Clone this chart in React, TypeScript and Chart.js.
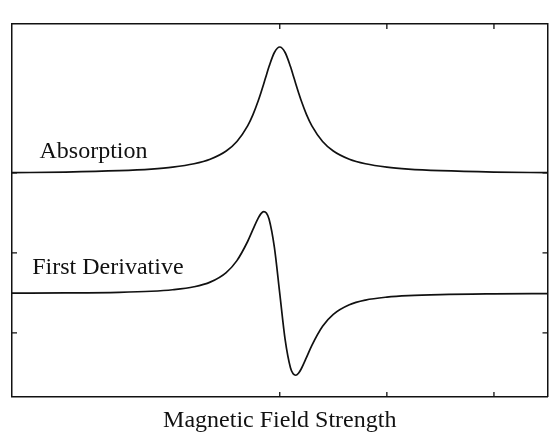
import React, { useEffect, useRef } from "react";
import { Chart, registerables } from "chart.js";

Chart.register(...registerables);

// Field positions (arbitrary units, 0 = resonance centre)
const fieldX = [
  -2.5, -2.0, -1.5, -1.2, -1.0, -0.8, -0.65, -0.5, -0.4, -0.3, -0.25, -0.2, -0.175, -0.15, -0.125, -0.1, -0.05,
  0, 0.05, 0.1, 0.125, 0.15, 0.175, 0.2, 0.25, 0.3, 0.4, 0.5, 0.65, 0.8, 1.0, 1.2, 1.5, 2.0, 2.5,
];

// Absorption signal
const absorption = [
  2.004, 2.011, 2.028, 2.048, 2.072, 2.115, 2.172, 2.275, 2.394, 2.589, 2.73, 2.906, 3.007, 3.113, 3.223, 3.33, 3.506,
  3.575, 3.506, 3.33, 3.223, 3.113, 3.007, 2.906, 2.73, 2.589, 2.394, 2.275, 2.172, 2.115, 2.072, 2.048, 2.028, 2.011, 2.004,
];

// First-derivative signal
const firstDerivative = [
  0.497, 0.5, 0.508, 0.521, 0.54, 0.577, 0.635, 0.755, 0.904, 1.143, 1.294, 1.439, 1.492, 1.517, 1.499, 1.424, 1.069,
  0.494, -0.081, -0.436, -0.511, -0.529, -0.504, -0.451, -0.306, -0.155, 0.084, 0.233, 0.353, 0.411, 0.448, 0.467, 0.48, 0.488, 0.491,
];

const xTickValues = [0, 1, 2];
const yTickValues = [0, 1, 2];

const labelTexts = ["Absorption", "First Derivative"];
const labelX = [-2.243, -2.311];
const labelY = [2.19, 0.734];

const xTitle = "Magnetic Field Strength";

const INK = "#111";
const FONT = '"Liberation Serif", "Times New Roman", serif';

const framePlugin = {
  id: "frameTicksLabels",
  afterDraw(chart: any) {
    const { ctx, chartArea: a } = chart;
    const x = chart.scales.x;
    const y = chart.scales.y;
    const len = 5;
    ctx.save();
    ctx.strokeStyle = INK;
    ctx.lineWidth = 1.3;
    ctx.beginPath();
    x.ticks.forEach((t: any) => {
      const px = x.getPixelForValue(t.value);
      ctx.moveTo(px, a.bottom);
      ctx.lineTo(px, a.bottom - len);
      ctx.moveTo(px, a.top);
      ctx.lineTo(px, a.top + len);
    });
    y.ticks.forEach((t: any) => {
      const py = y.getPixelForValue(t.value);
      ctx.moveTo(a.left, py);
      ctx.lineTo(a.left + len, py);
      ctx.moveTo(a.right, py);
      ctx.lineTo(a.right - len, py);
    });
    ctx.stroke();

    ctx.font = `24px ${FONT}`;
    ctx.fillStyle = INK;
    ctx.textAlign = "left";
    ctx.textBaseline = "alphabetic";
    labelTexts.forEach((txt, i) => {
      ctx.fillText(txt, x.getPixelForValue(labelX[i]), y.getPixelForValue(labelY[i]));
    });
    ctx.restore();
  },
};

export default function App() {
  const canvasRef = useRef<HTMLCanvasElement | null>(null);

  useEffect(() => {
    if (!canvasRef.current) return;
    const border = { display: true, color: INK, width: 1.5 };
    const hiddenTicks = { display: false };
    const noGrid = { display: false, drawTicks: false };
    const chart = new Chart(canvasRef.current, {
      type: "line",
      data: {
        datasets: [
          {
            label: "Absorption",
            data: fieldX.map((v, i) => ({ x: v, y: absorption[i] })),
            borderColor: INK,
            borderWidth: 1.7,
            pointRadius: 0,
            cubicInterpolationMode: "monotone",
            fill: false,
          },
          {
            label: "First Derivative",
            data: fieldX.map((v, i) => ({ x: v, y: firstDerivative[i] })),
            borderColor: INK,
            borderWidth: 1.7,
            pointRadius: 0,
            cubicInterpolationMode: "monotone",
            fill: false,
          },
        ],
      },
      options: {
        responsive: false,
        animation: false,
        layout: { padding: { left: 12, right: 1.5, top: 24, bottom: 8.3 } },
        plugins: { legend: { display: false }, tooltip: { enabled: false }, title: { display: false } },
        scales: {
          x: {
            type: "linear",
            position: "bottom",
            min: -2.5,
            max: 2.5,
            afterBuildTicks: (s: any) => {
              s.ticks = xTickValues.map((v) => ({ value: v }));
            },
            ticks: hiddenTicks,
            grid: noGrid,
            border,
            title: {
              display: true,
              text: xTitle,
              color: INK,
              font: { family: FONT, size: 24, weight: "normal" },
              padding: { top: 9, bottom: 0 },
            },
          },
          x2: {
            type: "linear",
            axis: "x",
            position: "top",
            min: -2.5,
            max: 2.5,
            ticks: hiddenTicks,
            grid: noGrid,
            border,
          },
          y: {
            type: "linear",
            position: "left",
            min: -0.8,
            max: 3.8625,
            afterBuildTicks: (s: any) => {
              s.ticks = yTickValues.map((v) => ({ value: v }));
            },
            ticks: hiddenTicks,
            grid: noGrid,
            border,
          },
          y2: {
            type: "linear",
            axis: "y",
            position: "right",
            min: -0.8,
            max: 3.8625,
            ticks: hiddenTicks,
            grid: noGrid,
            border,
          },
        },
      } as any,
      plugins: [framePlugin],
    });
    return () => chart.destroy();
  }, []);

  return (
    <div style={{ position: "fixed", left: 0, top: 0, width: 549, height: 443, background: "#fff" }}>
      <canvas ref={canvasRef} width={549} height={443} style={{ display: "block" }} />
    </div>
  );
}
